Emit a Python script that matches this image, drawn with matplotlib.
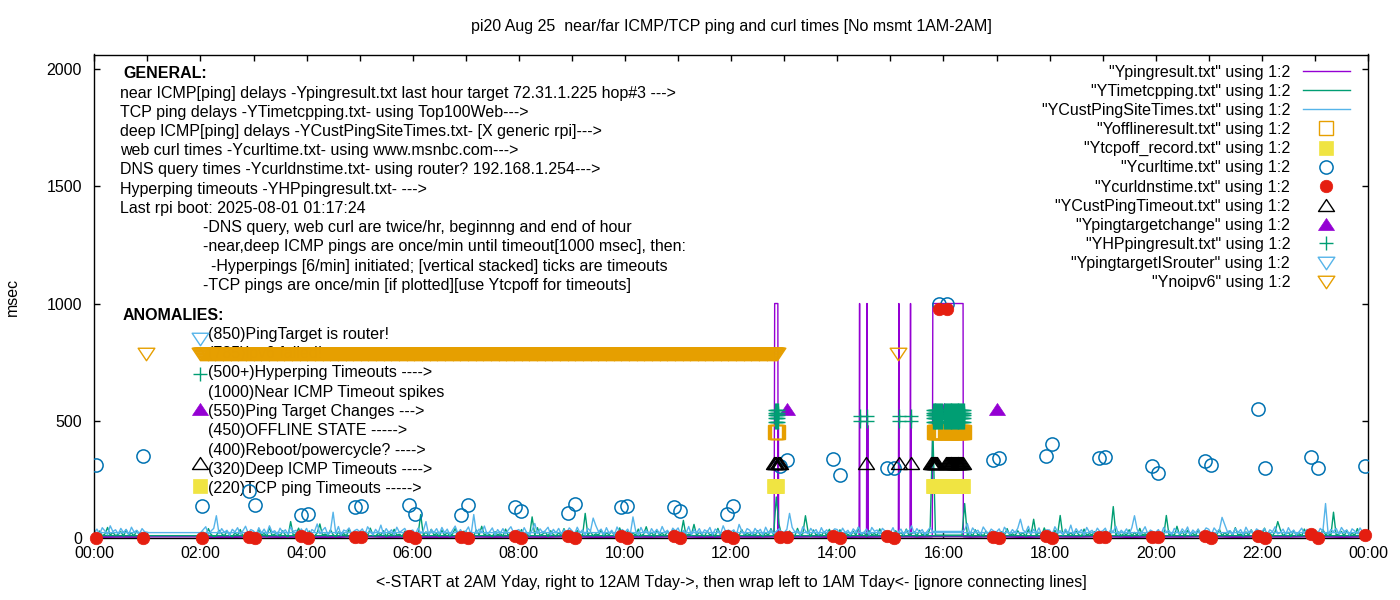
import numpy as np
import matplotlib
matplotlib.use('Agg')
import matplotlib.pyplot as plt
from matplotlib.path import Path
from matplotlib.ticker import MultipleLocator, FixedLocator

plt.rcParams['font.family'] = ['Liberation Sans', 'DejaVu Sans']
plt.rcParams['font.size'] = 11.5

# ---------------- data (x = hour of day, y = msec) ----------------
# TCP ping / deep ICMP are once per minute, kept here as 3-min samples.
# file order: 02:00 -> 24:00, then wraps back to 00:00 -> 01:00
samp_t = np.concatenate([np.arange(120, 1440, 3), np.arange(0, 63, 3)]) / 60.0

tcp_ms = [
    12, 25, 8, 40, 15, 6, 10, 33, 18, 9, 28, 14, 5, 22, 11, 36, 7, 19, 13, 26,         # 02h
    14, 9, 38, 12, 20, 7, 45, 11, 16, 24, 8, 31, 13, 6, 70, 10, 18, 42, 9, 15,          # 03h
    10, 30, 13, 8, 22, 60, 12, 17, 9, 35, 14, 6, 26, 11, 19, 8, 39, 12, 23, 7,          # 04h
    18, 11, 27, 9, 42, 13, 8, 20, 14, 31, 6, 24, 10, 37, 12, 16, 7, 29, 11, 21,         # 05h
    9, 22, 15, 100, 12, 26, 10, 37, 13, 19, 7, 33, 11, 24, 8, 17, 41, 10, 14, 28,       # 06h
    28, 10, 16, 9, 34, 12, 50, 11, 21, 14, 6, 27, 13, 19, 8, 38, 10, 23, 12, 17,        # 07h
    11, 36, 13, 19, 8, 90, 12, 44, 10, 17, 25, 7, 31, 14, 9, 22, 11, 40, 13, 18,        # 08h
    23, 9, 32, 14, 11, 105, 13, 26, 9, 18, 12, 35, 8, 21, 15, 29, 10, 17, 43, 11,       # 09h
    15, 29, 10, 21, 12, 38, 9, 16, 48, 11, 24, 7, 33, 13, 20, 9, 27, 12, 36, 14,        # 10h
    20, 12, 75, 9, 17, 13, 58, 10, 25, 14, 8, 30, 12, 19, 7, 41, 11, 22, 10, 28,        # 11h
    10, 27, 15, 11, 36, 12, 19, 14, 24, 9, 31, 13, 8, 22, 11, 40, 12, 175, 60, 13,      # 12h
    22, 11, 30, 14, 9, 41, 12, 18, 95, 26, 7, 34, 13, 20, 9, 28, 11, 37, 14, 17,        # 13h
    13, 35, 10, 20, 15, 9, 28, 12, 46, 11, 24, 8, 31, 14, 19, 10, 39, 12, 22, 16,       # 14h
    17, 10, 31, 13, 24, 9, 38, 11, 19, 27, 8, 33, 12, 21, 10, 44, 470, 12, 12, 12,      # 15h
    12, 12, 12, 12, 12, 12, 12, 12, 147, 12, 23, 9, 35, 13, 19, 8, 29, 11, 26, 14,      # 16h
    16, 9, 27, 12, 40, 11, 18, 10, 31, 14, 22, 7, 36, 13, 80, 9, 25, 12, 43, 15,        # 17h
    25, 11, 33, 13, 96, 9, 36, 12, 22, 10, 29, 14, 8, 38, 11, 19, 13, 27, 9, 21,        # 18h
    14, 30, 10, 17, 134, 12, 26, 9, 20, 13, 35, 8, 24, 11, 41, 12, 18, 10, 29, 15,      # 19h
    11, 24, 15, 9, 96, 13, 18, 10, 50, 12, 27, 8, 33, 14, 20, 9, 37, 11, 23, 16,        # 20h
    28, 10, 19, 14, 37, 9, 23, 12, 30, 11, 44, 13, 17, 8, 26, 12, 35, 10, 21, 15,       # 21h
    15, 42, 11, 20, 9, 27, 70, 34, 10, 18, 24, 7, 31, 12, 19, 9, 38, 14, 22, 11,        # 22h
    12, 26, 9, 36, 14, 21, 10, 110, 13, 16, 28, 8, 33, 11, 20, 12, 40, 9, 24, 10,       # 23h
    10, 11, 30, 9, 17, 45, 12, 24, 10, 15, 27, 8, 35, 13, 21, 9, 31, 12, 19, 11, 12,    # 00h-01h
]

cust_ms = [
    22, 35, 48, 15, 30, 41, 95, 18, 40, 24, 33, 12, 37, 26, 44, 16, 31, 50, 20, 36,
    30, 14, 44, 21, 38, 17, 52, 25, 31, 13, 42, 24, 35, 16, 47, 28, 33, 15, 39, 22,
    41, 13, 36, 28, 60, 18, 33, 45, 14, 30, 110, 20, 49, 12, 34, 29, 43, 17, 31, 37,
    27, 39, 15, 48, 31, 13, 37, 22, 55, 16, 40, 23, 35, 14, 46, 24, 32, 41, 18, 30,
    34, 16, 42, 21, 31, 70, 14, 36, 23, 40, 17, 45, 22, 38, 13, 33, 51, 20, 36, 15,
    29, 47, 14, 100, 19, 38, 24, 51, 16, 27, 43, 13, 36, 21, 40, 17, 34, 48, 23, 31,
    36, 15, 44, 22, 13, 34, 62, 19, 39, 24, 32, 46, 14, 37, 22, 41, 16, 35, 24, 43,
    31, 17, 46, 22, 35, 13, 41, 30, 85, 53, 27, 38, 14, 44, 20, 33, 12, 47, 26, 36,
    25, 38, 16, 90, 31, 13, 45, 22, 34, 15, 40, 22, 37, 18, 49, 24, 33, 14, 42, 30,
    43, 15, 32, 21, 49, 14, 36, 22, 40, 17, 35, 26, 45, 13, 38, 31, 18, 52, 25, 34,
    27, 35, 14, 58, 30, 17, 40, 33, 15, 41, 25, 37, 13, 46, 23, 34, 19, 28, 39, 26,
    24, 37, 105, 45, 26, 32, 13, 48, 30, 17, 41, 25, 36, 14, 44, 22, 35, 18, 26, 39,
    36, 15, 42, 23, 33, 14, 39, 26, 47, 17, 23, 38, 13, 45, 29, 34, 16, 41, 30, 20,
    23, 44, 16, 26, 38, 14, 34, 29, 52, 18, 40, 24, 36, 13, 31, 45, 28, 28, 28, 28,
    28, 28, 28, 28, 28, 28, 28, 28, 35, 62, 15, 43, 28, 33, 14, 47, 30, 18, 38, 29,
    26, 39, 14, 46, 30, 18, 36, 23, 41, 80, 34, 25, 50, 17, 37, 22, 43, 13, 26, 35,
    34, 15, 48, 27, 31, 14, 38, 20, 55, 16, 40, 23, 36, 13, 45, 25, 33, 18, 42, 27,
    30, 42, 15, 35, 27, 50, 14, 33, 21, 39, 16, 44, 95, 37, 13, 29, 48, 18, 34, 27,
    24, 36, 15, 45, 26, 32, 13, 41, 30, 17, 39, 25, 47, 14, 34, 22, 38, 16, 26, 43,
    37, 15, 43, 28, 34, 88, 58, 27, 31, 16, 41, 23, 36, 13, 46, 25, 33, 18, 39, 30,
    29, 40, 14, 35, 27, 48, 17, 25, 38, 15, 44, 23, 34, 13, 26, 42, 19, 37, 24, 33,
    33, 16, 41, 29, 147, 14, 36, 27, 41, 17, 45, 28, 34, 13, 39, 30, 18, 43, 25, 23,
    23, 38, 16, 44, 30, 14, 52, 28, 35, 17, 41, 23, 37, 15, 46, 25, 33, 18, 40, 26, 24,
]

# near ICMP ping: quiet baseline + 1000 msec timeout spikes
ping_t = [2.0, 2.5, 3.0, 3.5, 4.0, 4.5, 5.0, 5.5, 6.0, 6.5, 7.0, 7.5,
          8.0, 8.5, 9.0, 9.5, 10.0, 10.5, 11.0, 11.5, 12.0, 12.5,
          12.81, 12.82, 12.88, 12.885, 12.89, 12.895,
          13.0, 13.5, 14.0,
          14.41, 14.42, 14.425, 14.55, 14.56, 14.565, 14.567, 14.57, 14.573, 14.576,
          15.0,
          15.15, 15.16, 15.165, 15.37, 15.38, 15.385, 15.387, 15.39, 15.393, 15.396,
          15.5, 15.79, 15.80, 16.37, 16.375,
          16.5, 17.0, 17.5, 18.0, 18.5, 19.0, 19.5, 20.0, 20.5, 21.0, 21.5,
          22.0, 22.5, 23.0, 23.5, 23.98,
          0.0, 0.5, 1.0]
ping_ms = [6, 4, 7, 5, 6, 4, 8, 5, 6, 4, 7, 5,
           6, 5, 7, 4, 6, 5, 7, 4, 6, 5,
           6, 1000, 1000, 6, 470, 6,
           5, 6, 4,
           5, 1000, 5, 5, 1000, 5, 490, 5, 480, 5,
           6,
           6, 1000, 6, 6, 1000, 6, 475, 6, 470, 6,
           5, 6, 1000, 1000, 6,
           5, 7, 4, 6, 5, 7, 4, 6, 5, 7, 4,
           6, 5, 7, 4, 6,
           5, 6, 5]

# web curl (twice/hr) and DNS query times, measured together
curl_t = [0.03, 0.92, 2.03, 2.92, 3.03, 3.89, 4.03, 4.91, 5.03, 5.93, 6.04,
          6.91, 7.04, 7.93, 8.04, 8.92, 9.06, 9.92, 10.04, 10.92, 11.04,
          11.92, 12.03, 12.92, 13.05, 13.92, 14.05, 14.94, 15.07, 15.92, 16.07,
          16.93, 17.05, 17.93, 18.05, 18.93, 19.04, 19.93, 20.04, 20.93, 21.04,
          21.93, 22.06, 22.93, 23.06, 23.94]
curl_ms = [311, 350, 136, 200, 141, 98, 102, 132, 136, 141, 102,
           98, 141, 132, 115, 107, 145, 132, 136, 132, 115,
           102, 136, 307, 333, 337, 269, 298, 298, 1000, 1000,
           333, 341, 350, 401, 341, 345, 307, 277, 328, 311,
           550, 298, 345, 298, 307]
dns_ms = [0, 0, 0, 6, 0, 10, 2, 5, 3, 9, 0,
          6, 2, 8, 0, 7, 0, 9, 1, 8, 0,
          9, 0, 4, 4, 7, 2, 9, 1, 975, 975,
          4, 2, 9, 1, 5, 3, 4, 4, 8, 0,
          10, 0, 16, 0, 13]

# event files: single records (hour, msec)
target_chg_t = [2.0, 13.05, 16.02, 17.01]
target_chg_ms = [550, 550, 550, 550]
isrouter_t = [2.0]
isrouter_ms = [850]
custto_t = [2.0, 14.55, 15.16, 15.38]
custto_ms = [320, 320, 320, 320]
tcpoff_t = [2.0]
tcpoff_ms = [220]
noipv6_t = [0.98, 15.15]
noipv6_ms = [785, 785]
hp_t = [2.0, 14.43, 14.43, 14.56, 14.56, 15.17, 15.17, 15.38, 15.38]
hp_ms = [700, 520, 499, 520, 499, 520, 499, 520, 499]

# stretches of once-per-minute records (start hour, end hour) and their level
offline_runs = [(12.84, 12.88), (15.81, 15.97), (16.04, 16.39)]
offline_level = 450
tcpoff_runs = [(12.82, 12.86), (15.80, 16.36)]
tcpoff_level = 220
custto_runs = [(12.82, 12.85), (12.89, 12.91), (15.77, 15.88), (16.05, 16.37)]
custto_level = 320
noipv6_runs = [(2.0, 12.86)]
noipv6_level = 785
hp_runs = [(12.83, 12.88), (15.80, 15.97), (16.02, 16.38)]
hp_levels = [495, 512, 525, 533, 546]


def per_minute(runs):
    out = []
    for a, b in runs:
        out.extend(np.arange(round(a * 60), round(b * 60) + 1) / 60.0)
    return np.array(out)


off_t = per_minute(offline_runs)
off_ms = np.full(len(off_t), offline_level)
toff_t = np.concatenate([tcpoff_t, per_minute(tcpoff_runs)])
toff_ms = np.concatenate([tcpoff_ms, np.full(len(toff_t) - len(tcpoff_t), tcpoff_level)])
cto_t = np.concatenate([custto_t, per_minute(custto_runs)])
cto_ms = np.concatenate([custto_ms, np.full(len(cto_t) - len(custto_t), custto_level)])
v6_t = np.concatenate([noipv6_t, per_minute(noipv6_runs)])
v6_ms = np.concatenate([noipv6_ms, np.full(len(v6_t) - len(noipv6_t), noipv6_level)])
hp_run_t = per_minute(hp_runs)
hpx = np.concatenate([hp_t, np.repeat(hp_run_t, len(hp_levels))])
hpy = np.concatenate([hp_ms, np.tile(hp_levels, len(hp_run_t))])

# ---------------- style ----------------
PURPLE = '#9400d3'
GREEN = '#009e73'
LBLUE = '#56b4e9'
ORANGE = '#e69f00'
YELLOW = '#f0e442'
BLUE = '#0072b2'
RED = '#e51e10'

tri_up = Path([(-1, -0.75), (1, -0.75), (0, 0.75), (-1, -0.75)], closed=True)
tri_dn = Path([(-1, 0.75), (1, 0.75), (0, -0.75), (-1, 0.75)], closed=True)

fig = plt.figure(figsize=(14, 6), dpi=100)
ax = fig.add_axes([94.3 / 1400, 62 / 600, 1273.7 / 1400, 483.5 / 600])

l_ping, = ax.plot(ping_t, ping_ms, color=PURPLE, lw=1.0, zorder=2.0)
l_tcp, = ax.plot(samp_t, tcp_ms, color=GREEN, lw=1.0, zorder=2.1)
l_cust, = ax.plot(samp_t, cust_ms, color=LBLUE, lw=1.0, zorder=2.2)
l_off, = ax.plot(off_t, off_ms, ls='none', marker='s', ms=10, mfc='none',
                 mec=ORANGE, mew=1.0, zorder=3.0)
l_toff, = ax.plot(toff_t, toff_ms, ls='none', marker='s', ms=10, mfc=YELLOW,
                  mec=YELLOW, mew=0.5, zorder=3.1)
l_curl, = ax.plot(curl_t, curl_ms, ls='none', marker='o', ms=9.5, mfc='none',
                  mec=BLUE, mew=1.1, zorder=3.2)
l_dns, = ax.plot(curl_t, dns_ms, ls='none', marker='o', ms=9, mfc=RED,
                 mec=RED, mew=0.5, zorder=3.3, clip_on=False)
l_cto, = ax.plot(cto_t, cto_ms, ls='none', marker=tri_up, ms=11.5, mfc='none',
                 mec='black', mew=1.0, zorder=3.4)
l_tgt, = ax.plot(target_chg_t, target_chg_ms, ls='none', marker=tri_up, ms=11.5,
                 mfc=PURPLE, mec=PURPLE, mew=0.5, zorder=3.5)
l_hp, = ax.plot(hpx, hpy, ls='none', marker='+', ms=10.5, mew=1.0, color=GREEN,
                zorder=3.6)
l_isr, = ax.plot(isrouter_t, isrouter_ms, ls='none', marker=tri_dn, ms=12,
                 mfc='none', mec=LBLUE, mew=1.0, zorder=3.7)
l_v6, = ax.plot(v6_t, v6_ms, ls='none', marker=tri_dn, ms=12, mfc='none',
                mec=ORANGE, mew=1.0, zorder=3.8)

handles = [l_ping, l_tcp, l_cust, l_off, l_toff, l_curl, l_dns, l_cto, l_tgt,
           l_hp, l_isr, l_v6]
labels = ['"Ypingresult.txt" using 1:2', '"YTimetcpping.txt" using 1:2',
          '"YCustPingSiteTimes.txt" using 1:2', '"Yofflineresult.txt" using 1:2',
          '"Ytcpoff_record.txt" using 1:2', '"Ycurltime.txt" using 1:2',
          '"Ycurldnstime.txt" using 1:2', '"YCustPingTimeout.txt" using 1:2',
          '"Ypingtargetchange" using 1:2', '"YHPpingresult.txt" using 1:2',
          '"YpingtargetISrouter" using 1:2', '"Ynoipv6" using 1:2']
ax.legend(handles, labels, loc='upper right',
          bbox_to_anchor=(1 - 18 / 1273.7, 1 - 10 / 483.5), frameon=False,
          markerfirst=False, handlelength=2.95, handletextpad=0.8,
          labelspacing=0.26, borderpad=0, borderaxespad=0, numpoints=1,
          fontsize=11.5)

# ---------------- annotation labels ----------------
general = [
    (0.54, 'GENERAL:', 'bold'),
    (0.49, 'near ICMP[ping] delays -Ypingresult.txt last hour target 72.31.1.225 hop#3 --->', 'normal'),
    (0.49, 'TCP ping delays -YTimetcpping.txt- using Top100Web--->', 'normal'),
    (0.49, 'deep ICMP[ping] delays -YCustPingSiteTimes.txt- [X generic rpi]--->', 'normal'),
    (0.49, 'web curl times -Ycurltime.txt- using www.msnbc.com--->', 'normal'),
    (0.49, 'DNS query times -Ycurldnstime.txt- using router? 192.168.1.254--->', 'normal'),
    (0.49, 'Hyperping timeouts -YHPpingresult.txt- --->', 'normal'),
    (0.49, 'Last rpi boot: 2025-08-01 01:17:24', 'normal'),
    (2.05, '-DNS query, web curl are twice/hr, beginnng and end of hour', 'normal'),
    (2.05, '-near,deep ICMP pings are once/min until timeout[1000 msec], then:', 'normal'),
    (2.20, '-Hyperpings [6/min] initiated; [vertical stacked] ticks are timeouts', 'normal'),
    (2.05, '-TCP pings are once/min [if plotted][use Ytcpoff for timeouts]', 'normal'),
]
for i, (x, s, w) in enumerate(general):
    ax.text(x, 1979 - 81.9 * i, s, ha='left', va='center', fontweight=w,
            zorder=1)

anomalies = [
    (0.54, 'ANOMALIES:', 'bold'),
    (2.14, '(850)PingTarget is router!', 'normal'),
    (2.14, '(785)ipv6 failed!', 'normal'),
    (2.14, '(500+)Hyperping Timeouts ---->', 'normal'),
    (2.14, '(1000)Near ICMP Timeout spikes', 'normal'),
    (2.14, '(550)Ping Target Changes --->', 'normal'),
    (2.14, '(450)OFFLINE STATE ----->', 'normal'),
    (2.14, '(400)Reboot/powercycle? ---->', 'normal'),
    (2.14, '(320)Deep ICMP Timeouts ---->', 'normal'),
    (2.14, '(220)TCP ping Timeouts ----->', 'normal'),
]
for i, (x, s, w) in enumerate(anomalies):
    ax.text(x, 951 - 82.3 * i, s, ha='left', va='center', fontweight=w,
            zorder=1)

# ---------------- axes ----------------
ax.set_xlim(0, 24)
ax.set_ylim(0, 2062)
ax.xaxis.set_major_locator(FixedLocator(range(0, 25, 2)))
ax.xaxis.set_minor_locator(FixedLocator(range(1, 24, 2)))
ax.set_xticklabels(['%02d:00' % (h % 24) for h in range(0, 25, 2)])
ax.yaxis.set_major_locator(MultipleLocator(500))
ax.tick_params(which='both', direction='in', top=True, right=True,
               length=6.5 / 1.389, width=1.0)
ax.tick_params(axis='x', pad=6)
ax.tick_params(axis='y', pad=9)
for sp in ax.spines.values():
    sp.set_linewidth(1.0)

fig.text(ax.get_position().x0 + ax.get_position().width / 2, 1 - 27 / 600,
         'pi20 Aug 25  near/far ICMP/TCP ping and curl times [No msmt 1AM-2AM]',
         ha='center', va='center')
fig.text(ax.get_position().x0 + ax.get_position().width / 2, 1 - 582 / 600,
         '<-START at 2AM Yday, right to 12AM Tday->, then wrap left to 1AM Tday<- [ignore connecting lines]',
         ha='center', va='center')
fig.text(12 / 1400, 1 - 297 / 600, 'msec', rotation=90, ha='center', va='center')

fig.savefig('out.png', dpi=100)
